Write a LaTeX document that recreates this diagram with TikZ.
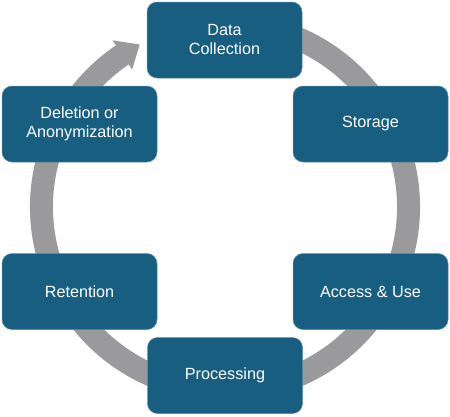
\documentclass[tikz,border=0pt]{standalone}
\usepackage{fontspec}
\setmainfont{Liberation Sans}
\usetikzlibrary{calc}
\definecolor{boxblue}{HTML}{175E80}
\definecolor{boxedge}{HTML}{5E8FA8}
\definecolor{ringgray}{HTML}{9A9A9C}
\begin{document}
\begin{tikzpicture}[x=1pt,y=-1pt,
  stage/.style={draw=boxedge, line width=0.5pt, fill=boxblue, rounded corners=10pt,
    minimum width=155pt, minimum height=76pt, text=white, align=center,
    font=\fontsize{16.2}{19}\selectfont, inner sep=0pt},
  ring/.style={draw=ringgray, line width=23pt}]
\useasboundingbox (0,0) rectangle (450,416);
\fill[white] (0,0) rectangle (450,416);
\coordinate (c) at (225,207);
% ring
\draw[ring] ($(c)+(-70:183.5)$) arc[start angle=-70, end angle=236.3, radius=183.5];
\fill[ringgray] ($(c)+(-124:201)$) -- ($(c)+(-117.7:183.5)$) -- ($(c)+(-124:166)$) -- cycle;
% stages
\node[stage] (dc) at (224.5,40) {Data\\Collection};
\node[stage] (st) at (370.5,124) {Storage};
\node[stage] (au) at (370.5,291.5) {Access \& Use};
\node[stage] (pr) at (225,375.5) {Processing};
\node[stage] (re) at (79.5,291.5) {Retention};
\node[stage] (de) at (79.5,124) {Deletion or\\Anonymization};
\end{tikzpicture}
\end{document}
